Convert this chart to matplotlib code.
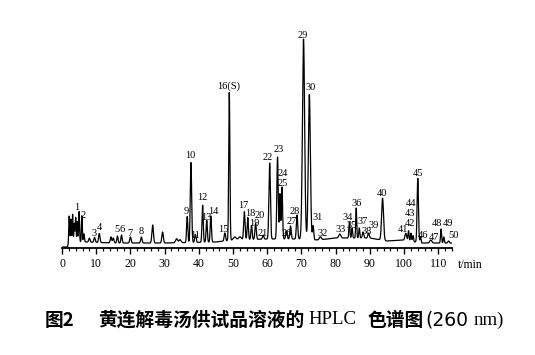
import numpy as np
import matplotlib
matplotlib.use("Agg")
import matplotlib.pyplot as plt
from matplotlib.ticker import MultipleLocator

# ---------------- data ----------------
# peak retention times (min), heights above baseline (arbitrary units), widths (sigma, min)
peak_t = [2.1, 2.6, 3.1, 3.6, 4.0, 4.5, 5.0, 5.8, 6.4, 8.0, 9.5, 10.9, 14.3, 15.0,
          16.2, 17.4, 20.0, 23.2, 26.5, 29.4, 33.5, 34.5, 36.6, 37.7, 39.0, 41.1,
          42.3, 43.5, 47.6, 48.9, 50.5, 52.0, 53.3, 54.3, 55.4, 56.6, 58.8, 60.7,
          63.0, 63.7, 64.3, 65.6, 66.8, 68.7, 70.6, 72.3, 73.4, 75.5, 81.2, 84.0,
          84.8, 86.0, 86.9, 88.0, 89.6, 93.7, 100.5, 101.3, 102.0, 102.6, 104.0,
          104.8, 107.8, 110.8, 111.6, 113.0]
peak_h = [25, 22, 27, 18, 24, 20, 30, 26, 8, 4, 5, 9, 6, 5,
          7, 8, 6, 6, 18, 11, 4, 3, 26, 80, 8, 37,
          22, 26, 8, 148, 3, 3, 28, 22, 14, 16, 4, 76,
          82, 45, 52, 8, 13, 24, 200, 145, 14, 3, 4, 16,
          10, 30, 10, 6, 5, 42, 7, 10, 8, 6, 64,
          6, 3, 14, 6, 2]
peak_w = [0.12, 0.12, 0.12, 0.12, 0.12, 0.12, 0.12, 0.12, 0.15, 0.2, 0.2, 0.2, 0.2, 0.2,
          0.18, 0.18, 0.2, 0.2, 0.22, 0.22, 0.3, 0.3, 0.18, 0.2, 0.2, 0.18,
          0.18, 0.18, 0.2, 0.17, 0.4, 0.4, 0.2, 0.18, 0.18, 0.2, 0.2, 0.22,
          0.2, 0.15, 0.18, 0.2, 0.2, 0.2, 0.32, 0.3, 0.18, 0.3, 0.3, 0.15,
          0.15, 0.14, 0.15, 0.2, 0.2, 0.28, 0.25, 0.15, 0.15, 0.15, 0.2,
          0.15, 0.3, 0.15, 0.15, 0.2]

# baseline drift
base_t = [0, 1.6, 2.0, 7, 15, 30, 45, 50, 60, 70, 75, 80, 90, 95, 100, 105, 114]
base_y = [1, 1, 7, 6, 5, 5, 6, 8, 9, 9, 8, 10, 10, 7, 8, 5, 5]

# peak labels
labels = ["1", "2", "3", "4", "5", "6", "7", "8", "9", "10", "11", "12", "13", "14",
          "15", "16(S)", "17", "18", "19", "20", "21", "22", "23", "24", "25", "26",
          "27", "28", "29", "30", "31", "32", "33", "34", "35", "36", "37", "38",
          "39", "40", "41", "42", "43", "44", "45", "46", "47", "48", "49", "50"]

x_ticks = [0, 10, 20, 30, 40, 50, 60, 70, 80, 90, 100, 110]
x_label = "t/min"
caption_parts = ["图2", "黄连解毒汤供试品溶液的", "HPLC", "色谱图", "(260", "nm)"]

# ---------------- layout ----------------
label_pos = [(4.4, 41), (6.1, 32), (9.4, 14), (10.8, 21), (16.1, 18), (17.6, 18),
             (19.9, 15), (23.1, 16), (36.3, 37), (37.4, 93), (38.9, 12), (40.9, 50),
             (42.1, 30), (44.1, 37), (47.1, 19), (48.8, 162), (52.9, 43), (55.0, 35),
             (56.1, 25), (57.9, 33), (58.8, 15), (60.2, 91), (63.2, 99), (64.6, 75),
             (64.6, 65), (65.8, 15), (67.0, 26), (68.1, 36), (70.5, 213), (72.8, 161),
             (74.6, 30), (76.3, 15), (81.3, 19), (83.6, 31), (84.8, 22), (86.0, 45),
             (88.0, 27), (88.9, 16), (91.2, 23), (93.6, 55), (99.7, 18), (101.8, 25),
             (101.8, 35), (102.0, 45), (104.1, 75), (105.6, 13), (108.6, 11),
             (109.6, 24), (112.8, 24), (114.4, 12)]

W, H = 535, 355
fig = plt.figure(figsize=(W / 100, H / 100), dpi=100)
ax = fig.add_axes([62 / W, 107 / H, 390 / W, 220 / H])

t = np.linspace(0, 114, 8000)
y = np.interp(t, base_t, base_y)
for pt, ph, pw in zip(peak_t, peak_h, peak_w):
    y = y + ph * np.exp(-0.5 * ((t - pt) / pw) ** 2)
ax.plot(t, y, color="black", lw=0.9)

ax.set_xlim(0, 114)
ax.set_ylim(0, 220)
for s in ["left", "right", "top"]:
    ax.spines[s].set_visible(False)
ax.spines["bottom"].set_linewidth(1.3)
ax.set_yticks([])
ax.set_xticks(x_ticks)
ax.xaxis.set_minor_locator(MultipleLocator(2))
ax.tick_params(axis="x", which="major", direction="out", length=4, width=1.0, pad=3,
               labelsize=8.5)
ax.tick_params(axis="x", which="minor", direction="out", length=2.2, width=0.9)
for lab in ax.get_xticklabels():
    lab.set_fontfamily("Liberation Serif")

for txt, (lx, ly) in zip(labels, label_pos):
    ax.text(lx, ly, txt, ha="center", va="center", fontsize=7.5,
            family="Liberation Serif", clip_on=False)

fig.text(458 / W, 1 - 265 / H, x_label, ha="left", va="center", fontsize=8.5,
         family="Liberation Serif")

cy = 1 - 320 / H
cx = [45, 98, 308, 367, 425, 474]
cfam = [["Noto Sans CJK SC"], ["Noto Sans CJK SC"], ["Liberation Serif"],
        ["Noto Sans CJK SC"], ["DejaVu Sans"], ["Liberation Serif"]]
cw = ["bold", "bold", "normal", "bold", "normal", "normal"]
for part, x0, fam, wt in zip(caption_parts, cx, cfam, cw):
    fig.text(x0 / W, cy, part, ha="left", va="center", fontsize=13.5, family=fam,
             weight=wt)

fig.savefig("out.png", dpi=100, facecolor="white")
